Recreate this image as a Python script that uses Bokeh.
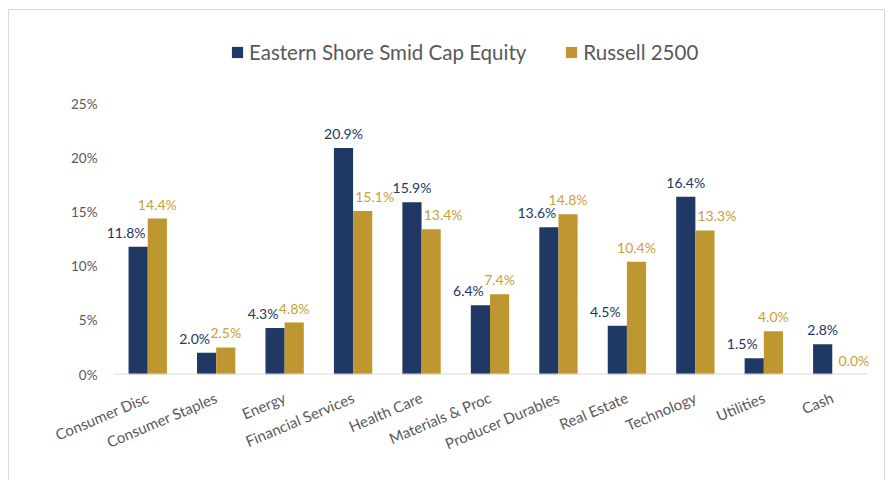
from bokeh.plotting import figure
from bokeh.models import (ColumnDataSource, FactorRange, Range1d, LabelSet, Legend,
                          LegendItem, FixedTicker, PrintfTickFormatter)
from bokeh.transform import dodge
from bokeh.core.properties import value
from bokeh.embed import file_html
from bokeh.resources import INLINE

categories = ["Consumer Disc", "Consumer Staples", "Energy", "Financial Services",
              "Health Care", "Materials & Proc", "Producer Durables", "Real Estate",
              "Technology", "Utilities", "Cash"]
eastern = [11.8, 2.0, 4.3, 20.9, 15.9, 6.4, 13.6, 4.5, 16.4, 1.5, 2.8]
russell = [14.4, 2.5, 4.8, 15.1, 13.4, 7.4, 14.8, 10.4, 13.3, 4.0, 0.0]
y_ticks = [0, 5, 10, 15, 20, 25]

NAVY = "#1F3864"
GOLD = "#BF9731"
NAVY_TXT = "#203864"
GOLD_TXT = "#C9A03A"
GRAY = "#595959"
AXIS_GRAY = "#D9D9D9"
FONT = "Lato"

src = ColumnDataSource(dict(
    cat=categories,
    eastern=eastern,
    russell=russell,
    e_lbl=[f"{v:.1f}%" for v in eastern],
    r_lbl=[f"{v:.1f}%" for v in russell],
    e_off=[-12 if e < r else 0 for e, r in zip(eastern, russell)],
    r_off=[12 if r < e else 0 for e, r in zip(eastern, russell)],
))

# frame: top at y=30, 25% tick at y=104, 0% at y=374
FRAME_H = 343
Y_END = 25 * FRAME_H / 270
PAD = 0.19  # category units of empty space either side (room for labels)

p = figure(x_range=FactorRange(*categories, range_padding=PAD,
                               range_padding_units="absolute"),
           y_range=Range1d(0, Y_END),
           width=877, height=471,
           min_border_left=91, min_border_right=7,
           min_border_top=20, min_border_bottom=107,
           output_backend="svg", toolbar_location=None,
           background_fill_color="white", border_fill_color="white")
p.styles = {"margin-left": "8px", "margin-top": "9px",
            "border": "1px solid #d9d9d9", "border-bottom": "none",
            "box-sizing": "border-box"}
p.outline_line_color = None
p.xgrid.visible = False
p.ygrid.visible = False

w = 0.28
r1 = p.vbar(x=dodge("cat", -w / 2, range=p.x_range), top="eastern", width=w,
            source=src, fill_color=NAVY, line_color=None)
r2 = p.vbar(x=dodge("cat", w / 2, range=p.x_range), top="russell", width=w,
            source=src, fill_color=GOLD, line_color=None)

# category axis baseline spanning only the categories
base = ColumnDataSource(dict(first=[categories[0]], last=[categories[-1]], y=[0]))
p.segment(x0=dodge("first", -0.5, range=p.x_range), y0="y",
          x1=dodge("last", 0.5, range=p.x_range), y1="y",
          source=base, line_color=AXIS_GRAY, line_width=2)

l1 = LabelSet(x=dodge("cat", -w / 2, range=p.x_range), y="eastern", text="e_lbl",
              x_offset="e_off", y_offset=6, source=src, text_align="center",
              text_baseline="bottom", text_font=value(FONT), text_font_size="14px",
              text_color=NAVY_TXT)
l2 = LabelSet(x=dodge("cat", w / 2, range=p.x_range), y="russell", text="r_lbl",
              x_offset="r_off", y_offset=6, source=src, text_align="center",
              text_baseline="bottom", text_font=value(FONT), text_font_size="14px",
              text_color=GOLD_TXT)
p.add_layout(l1)
p.add_layout(l2)

# axes
p.yaxis.ticker = FixedTicker(ticks=y_ticks)
p.yaxis.formatter = PrintfTickFormatter(format="%d%%")
p.yaxis.axis_line_color = None
p.yaxis.major_tick_line_color = None
p.yaxis.minor_tick_line_color = None
p.yaxis.major_label_standoff = -3
p.yaxis.major_label_text_font = FONT
p.yaxis.major_label_text_font_size = "13.5px"
p.yaxis.major_label_text_color = GRAY

p.xaxis.axis_line_color = None
p.xaxis.major_tick_line_color = None
p.xaxis.minor_tick_line_color = None
p.xaxis.major_label_orientation = 0.4
p.xaxis.major_label_standoff = 16
p.xaxis.major_label_text_font = FONT
p.xaxis.major_label_text_font_size = "15px"
p.xaxis.major_label_text_color = GRAY

legend = Legend(items=[LegendItem(label="Eastern Shore Smid Cap Equity", renderers=[r1]),
                       LegendItem(label="Russell 2500", renderers=[r2])],
                orientation="horizontal", location=(130, 310),
                label_text_font=FONT, label_text_font_size="20.5px",
                label_text_color=GRAY, glyph_width=14, glyph_height=14,
                spacing=38, label_standoff=5, padding=0, margin=0,
                border_line_color=None, background_fill_alpha=0)
p.add_layout(legend)

open("out.html", "w").write(file_html(p, INLINE))
